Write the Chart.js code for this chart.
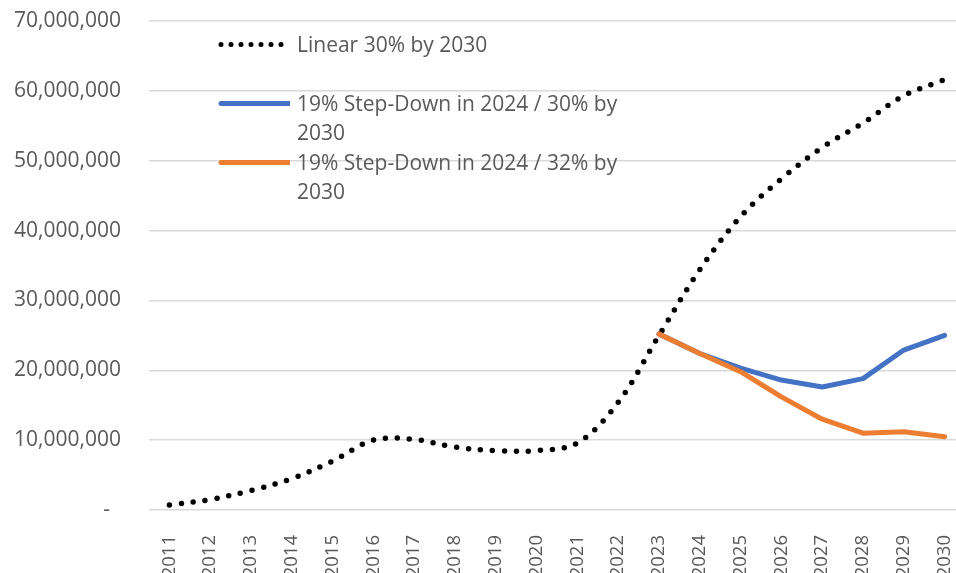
<!DOCTYPE html>
<html lang="en">
<head>
    <meta charset="UTF-8">
    <title>Step-Down scenarios</title>
    <style>
        html, body { margin: 0; padding: 0; overflow: hidden; background: #fff; }
        .wrap { position: relative; width: 970px; height: 590px; }
        .legend { position: absolute; left: 0; top: 0; font-family: "Open Sans", sans-serif; font-size: 21px; color: #595959; }
        .item { position: absolute; left: 218px; display: flex; align-items: flex-start; }
        .item svg { flex: none; margin-right: 7px; }
        .item span { width: 335px; line-height: 29px; }
    </style>
</head>
<body>
    <div class="wrap">
        <canvas id="grafico"></canvas>
        <div class="legend" id="legenda"></div>
    </div>
<script src="https://cdn.jsdelivr.net/npm/chart.js@4"></script>
<script>
    // dados
    const anos = ['2011', '2012', '2013', '2014', '2015', '2016', '2017', '2018', '2019', '2020',
        '2021', '2022', '2023', '2024', '2025', '2026', '2027', '2028', '2029', '2030'];

    const linear30 = [700000, 1500000, 2800000, 4500000, 7000000, 10000000, 10100000, 9000000, 8500000, 8500000,
        9600000, 15400000, 25000000, 34400000, 42000000, 47400000, 51900000, 55400000, 59300000, 61600000];

    const stepDown30 = [null, null, null, null, null, null, null, null, null, null,
        null, null, 25200000, 22400000, 20300000, 18600000, 17600000, 18800000, 22900000, 25000000];

    const stepDown32 = [null, null, null, null, null, null, null, null, null, null,
        null, null, 25200000, 22400000, 19800000, 16200000, 13000000, 11000000, 11200000, 10500000];

    const nomes = ['Linear 30% by 2030', '19% Step-Down in 2024 / 30% by 2030', '19% Step-Down in 2024 / 32% by 2030'];
    const yTicks = [0, 10000000, 20000000, 30000000, 40000000, 50000000, 60000000, 70000000];

    const cinza = '#595959';
    const fonte = { family: 'Open Sans', size: 21 };

    // legenda em html (texto quebra em duas linhas)
    const itensLegenda = [
        { nome: nomes[0], cor: '#000', dash: '0 10', top: 44 },
        { nome: nomes[1], cor: '#4472C4', dash: '', top: 103 },
        { nome: nomes[2], cor: '#ED7D31', dash: '', top: 162 }
    ];
    let html = '';
    for (let i = 0; i < itensLegenda.length; i++) {
        const it = itensLegenda[i];
        const x2 = it.dash ? 66 : 72;
        html += `<div class="item" style="top:${it.top - 14.5}px">
            <svg width="72" height="29"><line x1="3" y1="14.5" x2="${x2}" y2="14.5" stroke="${it.cor}" stroke-width="5"
            stroke-linecap="round" ${it.dash ? `stroke-dasharray="${it.dash}"` : ''}/></svg>
            <span>${it.nome}</span></div>`;
    }
    document.getElementById('legenda').innerHTML = html;

    const canvas = document.getElementById('grafico');
    canvas.width = 970;
    canvas.height = 590;

    const config = {
        type: 'line',
        data: {
            labels: anos,
            datasets: [{
                label: nomes[0],
                data: linear30,
                borderColor: '#000',
                borderWidth: 5.5,
                borderDash: [0, 12],
                borderCapStyle: 'round',
                tension: 0.35,
                pointRadius: 0,
                order: 2
            }, {
                label: nomes[1],
                data: stepDown30,
                borderColor: '#4472C4',
                borderWidth: 5,
                borderCapStyle: 'round',
                borderJoinStyle: 'round',
                pointRadius: 0,
                order: 1
            }, {
                label: nomes[2],
                data: stepDown32,
                borderColor: '#ED7D31',
                borderWidth: 5,
                borderCapStyle: 'round',
                borderJoinStyle: 'round',
                pointRadius: 0,
                order: 0
            }]
        },
        options: {
            responsive: false,
            animation: false,
            layout: { padding: { top: 21, right: 5, left: 0, bottom: 0 } },
            plugins: { legend: { display: false }, tooltip: { enabled: false } },
            scales: {
                x: {
                    offset: true,
                    grid: { display: false },
                    border: { display: false },
                    ticks: {
                        color: cinza, font: { family: 'Open Sans', size: 18.5 }, padding: 17,
                        minRotation: 90, maxRotation: 90, autoSkip: false
                    },
                    afterFit: function (scale) {
                        scale.height = 80;
                        scale.paddingLeft = 0;
                        scale.paddingRight = 0;
                    }
                },
                y: {
                    min: 0,
                    max: 70000000,
                    afterBuildTicks: function (scale) {
                        scale.ticks = yTicks.map(v => ({ value: v }));
                    },
                    grid: { color: '#d9d9d9', lineWidth: 1.5, drawTicks: false },
                    border: { display: false },
                    ticks: {
                        color: cinza, font: fonte, padding: 28,
                        callback: function (v) {
                            return v === 0 ? '-  ' : v.toLocaleString('en-US');
                        }
                    },
                    afterFit: function (scale) {
                        scale.width = 149;
                        scale.paddingTop = 0;
                        scale.paddingBottom = 0;
                    }
                }
            }
        }
    };

    new Chart(canvas, config);
</script>
</body>
</html>
